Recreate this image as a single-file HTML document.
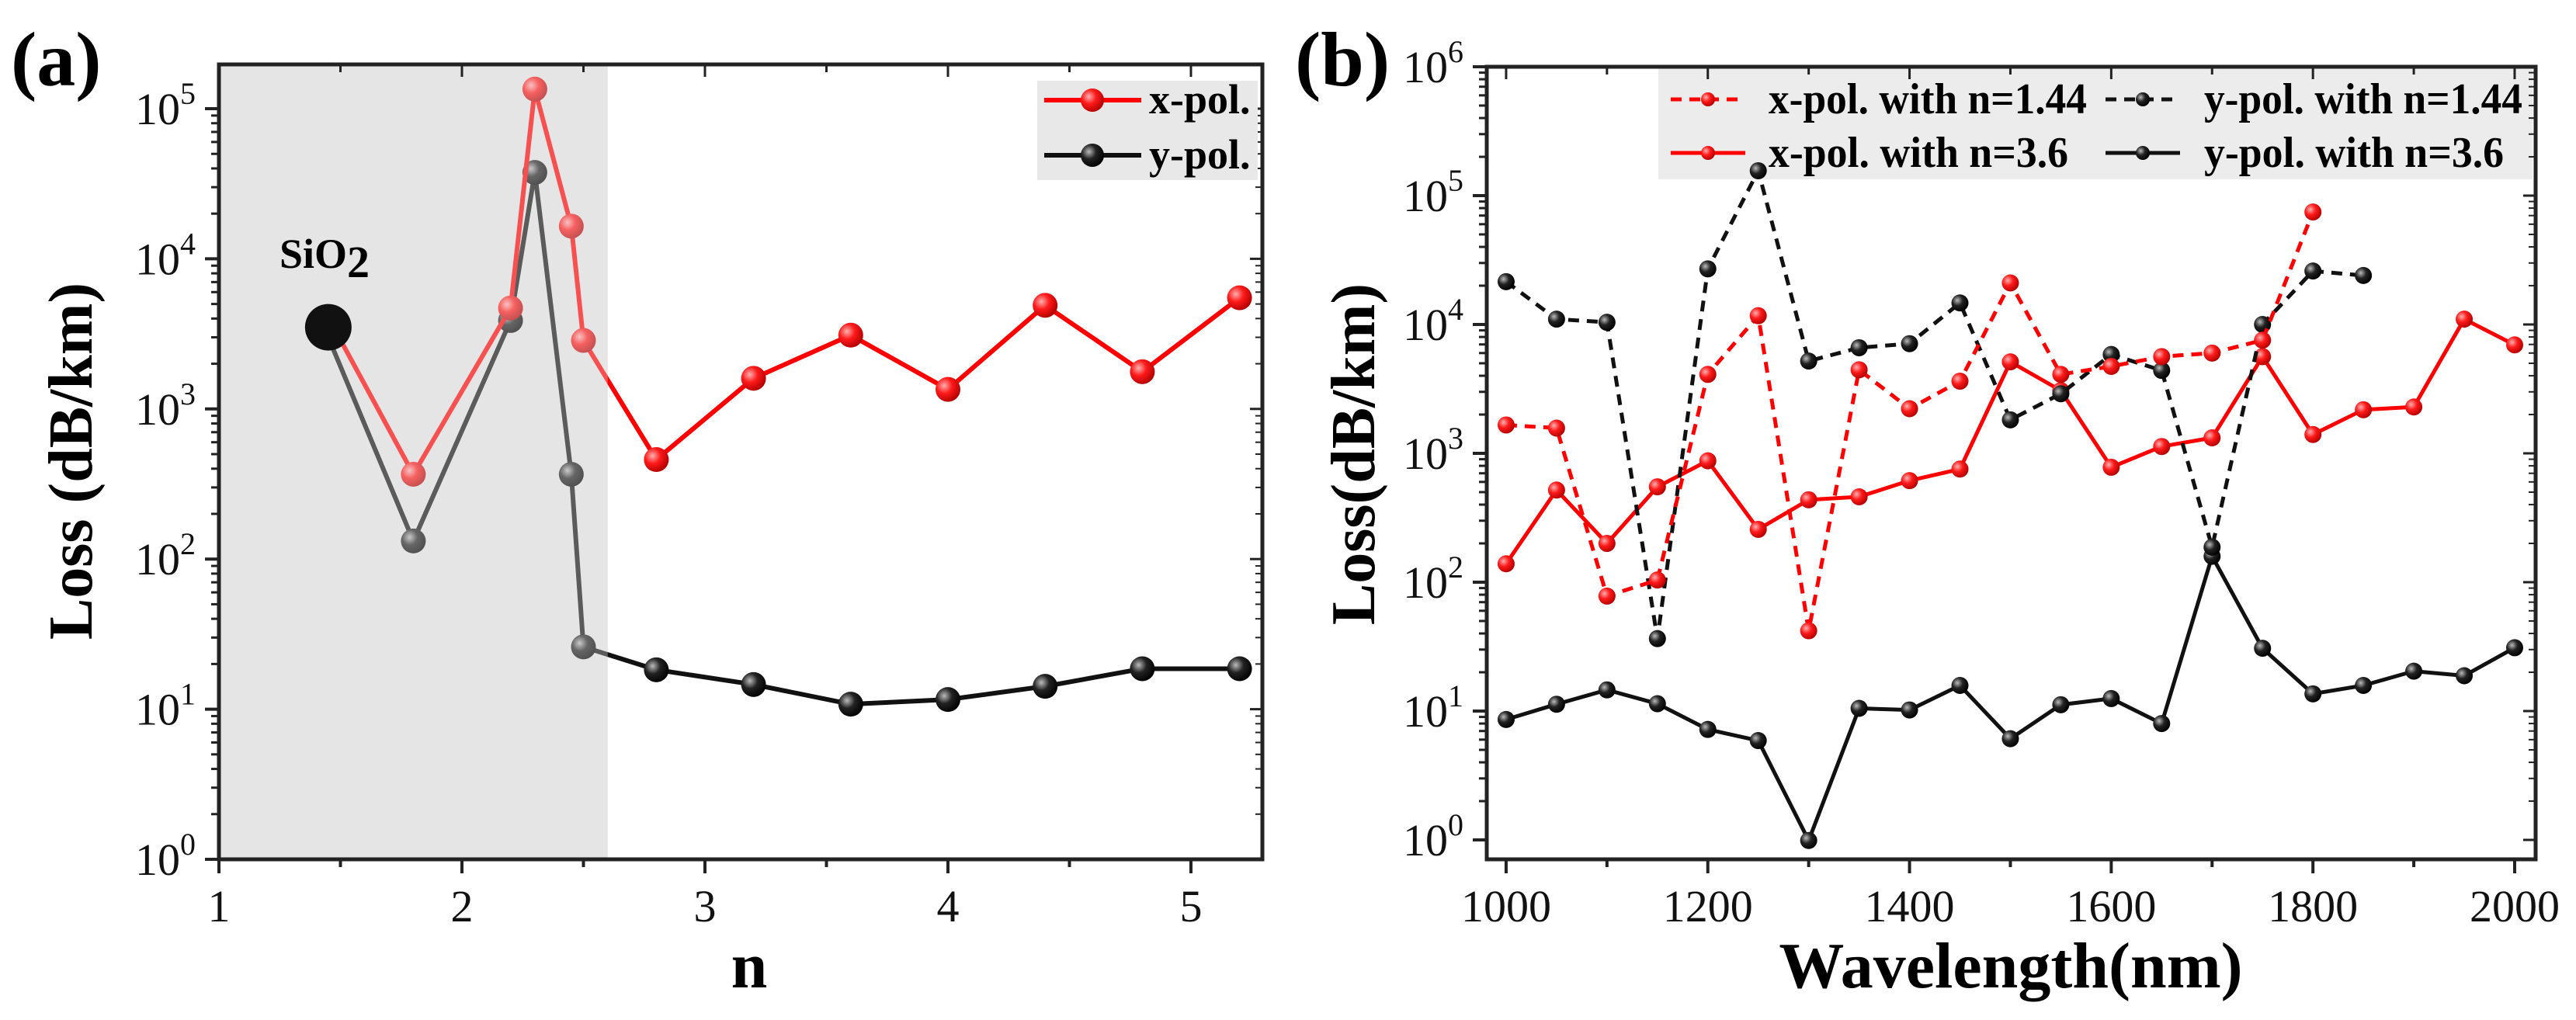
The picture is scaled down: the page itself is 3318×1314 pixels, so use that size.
<!DOCTYPE html>
<html><head><meta charset="utf-8"><style>
html,body{margin:0;padding:0;background:#fff;}
svg{display:block;}
svg text{font-family:"Liberation Serif","Times New Roman",serif;}
</style></head><body>
<svg id="chart" width="3318" height="1314" viewBox="0 0 3318 1314" font-family="Liberation Serif, serif">
<defs>
<radialGradient id="gRed" cx="0.35" cy="0.35" r="0.7"><stop offset="0" stop-color="#ffb0b0"/><stop offset="0.45" stop-color="#ff1a1a"/><stop offset="1" stop-color="#b00000"/></radialGradient>
<radialGradient id="gBlk" cx="0.35" cy="0.35" r="0.7"><stop offset="0" stop-color="#bbbbbb"/><stop offset="0.45" stop-color="#222"/><stop offset="1" stop-color="#000"/></radialGradient>
</defs>
<g id="pa"></g>
<g id="pb"></g>
</svg>
<script>
// ---- Panel (a) data ----
const aN = [1.45, 1.8, 2.2, 2.3, 2.45, 2.5, 2.8, 3.2, 3.6, 4.0, 4.4, 4.8, 5.2];
const aX = [4070, 367, 4700, 135000, 16500, 2860, 460, 1600, 3100, 1350, 4900, 1770, 5500];
const aY = [3000, 132, 3880, 37600, 367, 26, 18.3, 14.6, 10.8, 11.6, 14.2, 18.6, 18.6];
const aXTicks = [1, 2, 3, 4, 5];
const aYTicks = [0, 1, 2, 3, 4, 5];
// ---- Panel (b) data ----
const bWl1 = [1000,1050,1100,1150,1200,1250,1300,1350,1400,1450,1500,1550,1600,1650,1700,1750,1800];
const bX144 = [1660,1570,78,104,4100,11700,42,4450,2220,3630,21000,4100,4730,5630,6000,7550,74600];
const bWl2 = [1000,1050,1100,1150,1200,1250,1300,1350,1400,1450,1500,1550,1600,1650,1700,1750,1800,1850];
const bY144 = [21500,11000,10400,36.5,27000,156000,5200,6600,7100,14700,1820,2900,5850,4400,187,10000,26000,24000];
const bWl3 = [1000,1050,1100,1150,1200,1250,1300,1350,1400,1450,1500,1550,1600,1650,1700,1750,1800,1850,1900,1950,2000];
const bX36 = [139,519,200,550,875,257,436,460,614,755,5130,3070,780,1130,1320,5630,1400,2180,2290,11000,6950];
const bY36 = [8.6,11.3,14.6,11.4,7.2,5.9,0.99,10.5,10.2,15.8,6.1,11.2,12.5,8.0,159,30.7,13.6,15.8,20.4,18.8,31];
const bXTicks = [1000,1200,1400,1600,1800,2000];
const bYTicks = [0,1,2,3,4,5,6];

const NS = "http://www.w3.org/2000/svg";
function mk(parent, tag, attrs){ const e=document.createElementNS(NS,tag); for(const k in attrs) e.setAttribute(k,attrs[k]); parent.appendChild(e); return e; }

// ===== Panel A =====
const A = {L:282,R:1626,T:83,B:1107,x0:1,x1:5.294};
const ax = v => A.L + (v-A.x0)/(A.x1-A.x0)*(A.R-A.L);
const ay = v => A.B - Math.log10(v)*193.4;
const pa = document.getElementById('pa');
let r = mk(pa,'rect',{x:A.L,y:A.T,width:ax(2.6)-A.L,height:A.B-A.T,fill:'#e5e5e5'});



function series(parent, xs, ys, fx, fy, color, grad, rad, dash, name, lw){
  const g = mk(parent,'g',{});
  
  
  const pts = xs.map((x,i)=>fx(x)+','+fy(ys[i])).join(' ');
  mk(g,'polyline',{points:pts,fill:'none',stroke:color,'stroke-width':lw||5,'stroke-dasharray':dash||'none','stroke-linejoin':'round'});
  xs.forEach((x,i)=>{
    const c = mk(g,'circle',{cx:fx(x),cy:fy(ys[i]),r:rad,fill:'url(#'+grad+')'});
    
    
  });
}
series(pa,aN,aY,ax,ay,'#111','gBlk',16,null,'y-pol-series',6);
series(pa,aN,aX,ax,ay,'#ff0000','gRed',16,null,'x-pol-series',6);
r = mk(pa,'rect',{x:A.L,y:A.T,width:ax(2.6)-A.L,height:A.B-A.T,fill:'rgba(230,230,230,0.35)'});


let c = mk(pa,'circle',{cx:ax(1.45),cy:ay(3500),r:30,fill:'#111'});


let t = mk(pa,'text',{x:360,y:345,'font-size':54,'font-weight':'bold'});
t.innerHTML='SiO<tspan dy="12" font-size="58">2</tspan>';



function axes(parent,P,fx,fy,xt,xminor,yt,name){
  const g = mk(parent,'g',{});
  
  
  mk(g,'rect',{x:P.L,y:P.T,width:P.R-P.L,height:P.B-P.T,fill:'none',stroke:'#222','stroke-width':5});
  xminor.forEach(v=>{const x=fx(v);
    mk(g,'line',{x1:x,x2:x,y1:P.B,y2:P.B+10,stroke:'#222','stroke-width':4});
    mk(g,'line',{x1:x,x2:x,y1:P.T,y2:P.T+10,stroke:'#222','stroke-width':3});});
  xt.forEach(v=>{const x=fx(v);
    mk(g,'line',{x1:x,x2:x,y1:P.B,y2:P.B+18,stroke:'#222','stroke-width':4});
    mk(g,'line',{x1:x,x2:x,y1:P.T,y2:P.T+16,stroke:'#222','stroke-width':3});
    const tt=mk(g,'text',{x:x,y:P.B+80,'font-size':58,'text-anchor':'middle',fill:'#111'});
    tt.textContent=v;
    
    });
  yt.forEach(e=>{const y=fy(Math.pow(10,e));
    mk(g,'line',{x1:P.L-18,x2:P.L,y1:y,y2:y,stroke:'#222','stroke-width':4});
    mk(g,'line',{x1:P.R-16,x2:P.R,y1:y,y2:y,stroke:'#222','stroke-width':3});
    for(let m=2;m<10;m++){const ym=fy(m*Math.pow(10,e)); if(ym<P.T) break;
      mk(g,'line',{x1:P.L-10,x2:P.L,y1:ym,y2:ym,stroke:'#222','stroke-width':3});
      mk(g,'line',{x1:P.R-9,x2:P.R,y1:ym,y2:ym,stroke:'#222','stroke-width':2});}
    const tt=mk(g,'text',{x:P.L-30,y:y+20,'font-size':58,'text-anchor':'end',fill:'#111'});
    tt.innerHTML='10<tspan dy="-26" font-size="40">'+e+'</tspan>';
    
    });
}
axes(pa,A,ax,ay,aXTicks,[1.5,2.5,3.5,4.5],aYTicks,'axes-a');

function txt(parent,attrs,s,name){const e=mk(parent,'text',attrs);e.textContent=s;return e;}
txt(pa,{x:14,y:110,'font-size':100,'font-weight':'bold'},'(a)','panel-a-label');
txt(pa,{x:965,y:1272,'font-size':84,'font-weight':'bold','text-anchor':'middle'},'n','x-axis-title-a');
txt(pa,{x:0,y:0,'font-size':80,'font-weight':'bold','text-anchor':'middle',transform:'translate(118,594) rotate(-90)'},'Loss (dB/km)','y-axis-title-a');

const lga = mk(pa,'g',{});


mk(lga,'rect',{x:1336,y:104,width:284,height:128,fill:'#e8e8e8'});
[['x-pol.','#ff0000','gRed',129],['y-pol.','#111','gBlk',200]].forEach(d=>{
  mk(lga,'line',{x1:1345,x2:1470,y1:d[3],y2:d[3],stroke:d[1],'stroke-width':6});
  mk(lga,'circle',{cx:1407,cy:d[3],r:15,fill:'url(#'+d[2]+')'});
  txt(lga,{x:1480,y:d[3]+17,'font-size':54,'font-weight':'bold'},d[0],'legend-entry');
});

// ===== Panel B =====
const B = {L:1915,R:3266,T:86,B:1107,x0:980.8,x1:2020.8};
const bx = v => B.L + (v-B.x0)/(B.x1-B.x0)*(B.R-B.L);
const by = v => 1082 - Math.log10(v)*166;
const pb = document.getElementById('pb');
const lgb = mk(pb,'g',{});


mk(lgb,'rect',{x:2136,y:88,width:1126,height:143,fill:'#ececec'});
[['x-pol. with n=1.44','#ff0000','gRed','14 10',2152,2278,128,410],
 ['y-pol. with n=1.44','#111','gBlk','14 10',2712,2839,128,410],
 ['x-pol. with n=3.6','#ff0000','gRed',null,2152,2278,197,386],
 ['y-pol. with n=3.6','#111','gBlk',null,2712,2839,197,386]].forEach(d=>{
  mk(lgb,'line',{x1:d[4],x2:d[4]+96,y1:d[6],y2:d[6],stroke:d[1],'stroke-width':5,'stroke-dasharray':d[3]||'none'});
  mk(lgb,'circle',{cx:d[4]+48,cy:d[6],r:9,fill:'url(#'+d[2]+')'});
  txt(lgb,{x:d[5],y:d[6]+18,'font-size':56,'font-weight':'bold',textLength:d[7],lengthAdjust:'spacingAndGlyphs'},d[0],'legend-entry');
});
series(pb,bWl3,bY36,bx,by,'#111','gBlk',11,null,'y-pol-n3.6-series',5);
series(pb,bWl3,bX36,bx,by,'#ff0000','gRed',11,null,'x-pol-n3.6-series',5);
series(pb,bWl2,bY144,bx,by,'#111','gBlk',11,'14 10','y-pol-n1.44-series',5);
series(pb,bWl1,bX144,bx,by,'#ff0000','gRed',11,'14 10','x-pol-n1.44-series',5);
axes(pb,B,bx,by,bXTicks,[1100,1300,1500,1700,1900],bYTicks,'axes-b');
txt(pb,{x:1668,y:110,'font-size':100,'font-weight':'bold'},'(b)','panel-b-label');
txt(pb,{x:2590,y:1272,'font-size':84,'font-weight':'bold','text-anchor':'middle'},'Wavelength(nm)','x-axis-title-b');
txt(pb,{x:0,y:0,'font-size':80,'font-weight':'bold','text-anchor':'middle',transform:'translate(1770,585) rotate(-90)'},'Loss(dB/km)','y-axis-title-b');
</script>
</body></html>
